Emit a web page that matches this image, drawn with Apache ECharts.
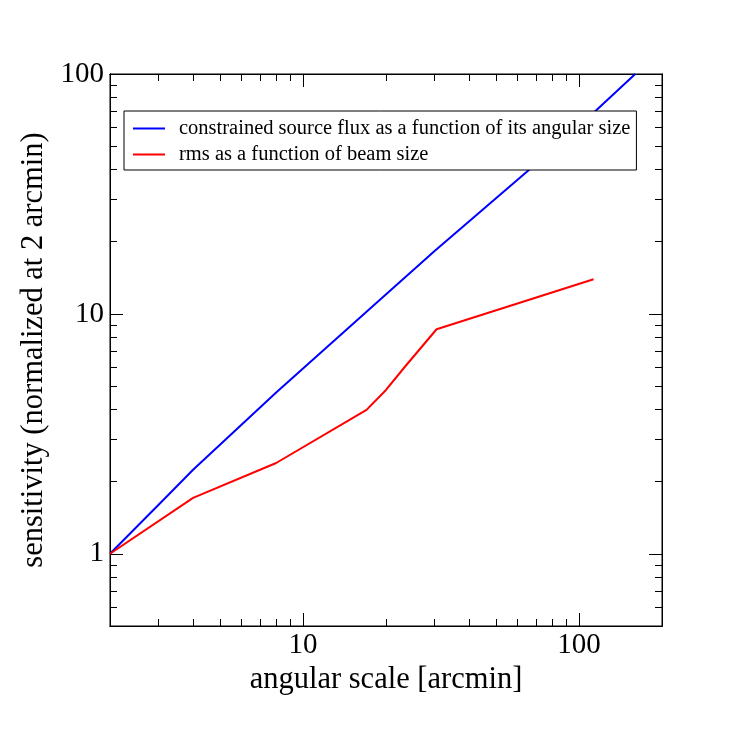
<!DOCTYPE html>
<html>
<head>
<meta charset="utf-8">
<script src="https://cdn.jsdelivr.net/npm/echarts@6/dist/echarts.min.js"></script>
<style>html,body{margin:0;padding:0;background:#fff;}#c{width:737px;height:737px;}</style>
</head>
<body>
<div id="c"></div>
<script>
var blueX = [2, 3, 4, 8, 17, 30, 67, 113, 160];
var blueY = [1, 1.6, 2.24, 4.7, 10.2, 18.3, 40.5, 69, 100];
var redX = [2, 4, 8, 17, 20, 23.5, 30.5, 113];
var redY = [1, 1.71, 2.39, 3.98, 4.82, 6.05, 8.63, 13.95];
var xMajor = [10, 100];
var xMinor = [3, 4, 5, 6, 7, 8, 9, 20, 30, 40, 50, 60, 70, 80, 90];
var yMajor = [1, 10, 100];
var yMinor = [0.6, 0.7, 0.8, 0.9, 2, 3, 4, 5, 6, 7, 8, 9, 20, 30, 40, 50, 60, 70, 80, 90];
var seriesNames = ['constrained source flux as a function of its angular size', 'rms as a function of beam size'];

function zip(a, b) { return a.map(function (v, i) { return [v, b[i]]; }); }

var FONT = 'Liberation Serif';
function xAx(pos, vals, len, labels) {
  return {
    type: 'log', logBase: 10, min: 2, max: 200, position: pos,
    axisLine: { show: true, lineStyle: { color: '#000', width: 1 } },
    axisTick: { show: true, inside: true, length: len, customValues: vals, lineStyle: { color: '#000', width: 1 } },
    axisLabel: labels ? { show: true, customValues: xMajor, color: '#000', fontFamily: FONT, fontSize: 29, margin: 5 } : { show: false },
    splitLine: { show: false }, minorTick: { show: false },
    name: labels ? 'angular scale [arcmin]' : '', nameLocation: 'middle', nameGap: 31,
    nameTextStyle: { color: '#000', fontFamily: FONT, fontSize: 30.5 }
  };
}
function yAx(pos, vals, len, labels) {
  return {
    type: 'log', logBase: 10, min: 0.5, max: 100, position: pos,
    axisLine: { show: true, lineStyle: { color: '#000', width: 1 } },
    axisTick: { show: true, inside: true, length: len, customValues: vals, lineStyle: { color: '#000', width: 1 } },
    axisLabel: labels ? { show: true, customValues: yMajor, color: '#000', fontFamily: FONT, fontSize: 29, margin: 6 } : { show: false },
    splitLine: { show: false }, minorTick: { show: false },
    name: labels ? 'sensitivity (normalized at 2 arcmin)' : '', nameLocation: 'middle', nameGap: 57,
    nameTextStyle: { color: '#000', fontFamily: FONT, fontSize: 30.5 }
  };
}

var chart = echarts.init(document.getElementById('c'));
chart.setOption({
  animation: false,
  backgroundColor: '#fff',
  grid: { left: 110, right: 75, top: 74, bottom: 111, show: true, borderColor: '#000', borderWidth: 1, backgroundColor: 'transparent' },
  legend: {
    orient: 'vertical', left: 124, top: 111,
    backgroundColor: '#fff', borderColor: '#000', borderWidth: 1,
    padding: [7, 6, 5, 9], itemGap: 5, itemWidth: 32, itemHeight: 2, icon: 'rect',
    textStyle: { color: '#000', fontFamily: FONT, fontSize: 20.5, padding: [0, 0, 0, 9] },
    data: seriesNames
  },
  xAxis: [xAx('bottom', xMajor, 13, true), xAx('bottom', xMinor, 7, false), xAx('top', xMajor, 13, false), xAx('top', xMinor, 7, false)],
  yAxis: [yAx('left', yMajor, 13, true), yAx('left', yMinor, 7, false), yAx('right', yMajor, 13, false), yAx('right', yMinor, 7, false)],
  series: [
    { name: seriesNames[0], type: 'line', data: zip(blueX, blueY), showSymbol: false, symbol: 'none', lineStyle: { color: '#0000ff', width: 2 }, itemStyle: { color: '#0000ff' } },
    { name: seriesNames[1], type: 'line', data: zip(redX, redY), showSymbol: false, symbol: 'none', lineStyle: { color: '#ff0000', width: 2 }, itemStyle: { color: '#ff0000' } }
  ]
});
</script>
</body>
</html>
